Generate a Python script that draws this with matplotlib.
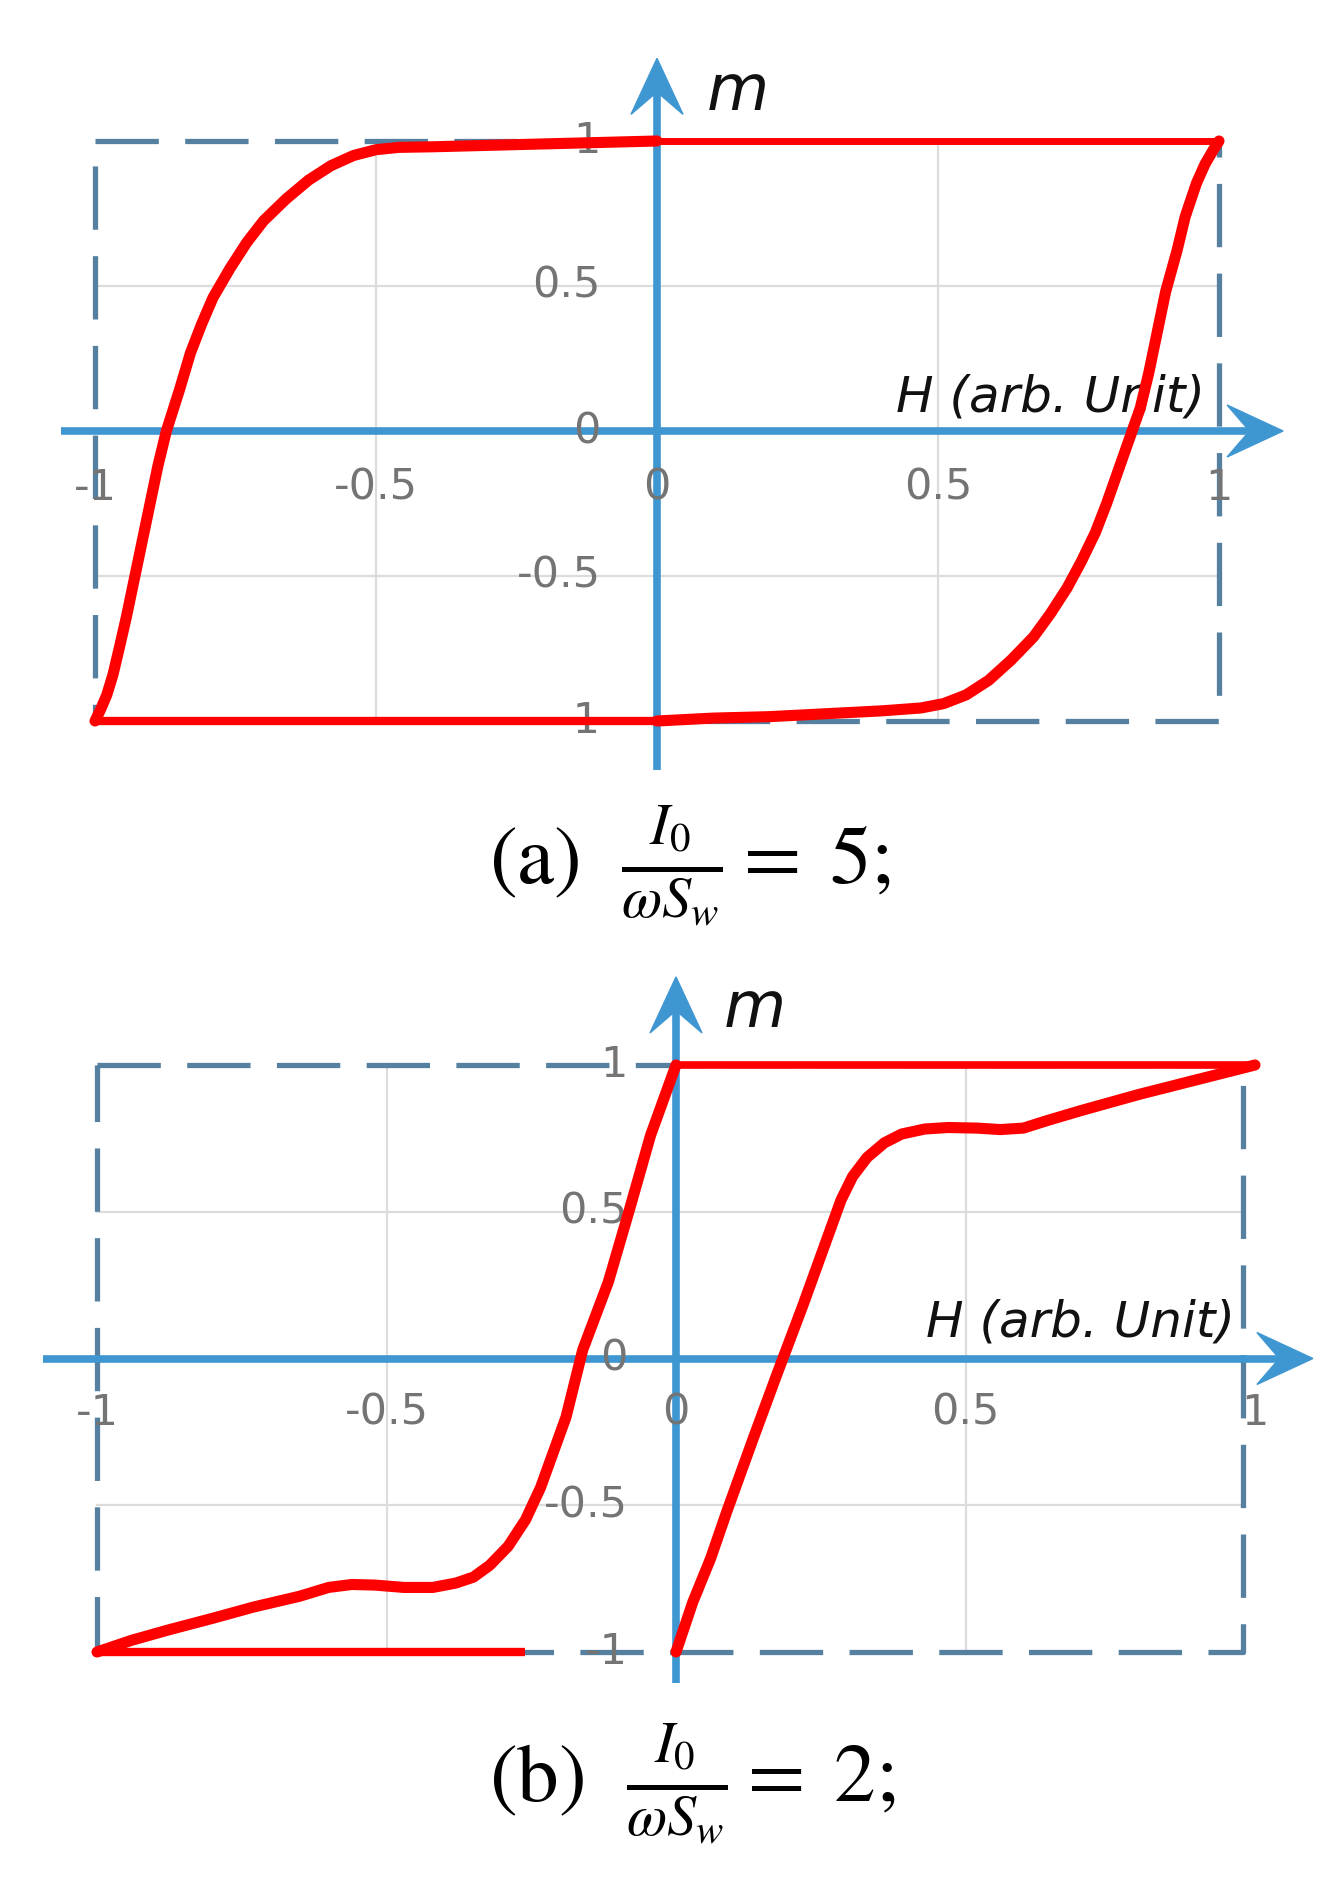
import matplotlib
matplotlib.use("Agg")
import matplotlib.pyplot as plt
from matplotlib.patches import Polygon

plt.rcParams['mathtext.fontset'] = 'stix'

# ---------------- data ----------------
tick_vals = [-1, -0.5, 0, 0.5, 1]
tick_labels = ["-1", "-0.5", "0", "0.5", "1"]

# panel (a): I0/(w Sw) = 5
a_top_H = [1.0, 0.0]
a_top_m = [1.0, 1.0]
a_desc_H = [0.0, -0.2, -0.3, -0.4, -0.46, -0.5, -0.54, -0.58, -0.62, -0.66,
            -0.7, -0.73, -0.76, -0.79, -0.81, -0.83, -0.85, -0.873, -0.888, -0.902,
            -0.916, -0.93, -0.944, -0.957, -0.968, -0.979, -0.99, -1.0]
a_desc_m = [1.0, 0.99, 0.985, 0.98, 0.978, 0.97, 0.95, 0.915, 0.865, 0.8,
            0.725, 0.65, 0.56, 0.46, 0.37, 0.27, 0.14, 0.0, -0.12, -0.25,
            -0.38, -0.51, -0.64, -0.75, -0.84, -0.91, -0.96, -1.0]
a_bottom_H = [-1.0, 0.0]
a_bottom_m = [-1.0, -1.0]
a_asc_H = [0.0, 0.1, 0.2, 0.3, 0.4, 0.47, 0.51, 0.55, 0.59, 0.63, 0.67,
           0.7, 0.73, 0.755, 0.78, 0.80, 0.82, 0.84, 0.86, 0.875, 0.89, 0.905, 0.925,
           0.94, 0.96, 0.975, 0.99, 1.0]
a_asc_m = [-1.0, -0.99, -0.985, -0.975, -0.965, -0.955, -0.94, -0.91,
           -0.86, -0.79, -0.71, -0.63, -0.54, -0.45, -0.35, -0.25, -0.14, -0.03, 0.08,
           0.2, 0.34, 0.48, 0.62, 0.74, 0.855, 0.92, 0.97, 1.0]

# panel (b): I0/(w Sw) = 2
b_top_H = [0.0, 1.0]
b_top_m = [1.0, 1.0]
b_desc_H = [0.0, -0.044, -0.08, -0.117, -0.161, -0.19, -0.234, -0.26,
            -0.29, -0.322, -0.35, -0.38, -0.42, -0.47, -0.52, -0.56, -0.6, -0.65,
            -0.73, -0.8, -0.877, -0.94, -1.0]
b_desc_m = [1.0, 0.76, 0.51, 0.26, 0.03, -0.2, -0.44, -0.55,
            -0.64, -0.705, -0.745, -0.765, -0.78, -0.78, -0.772, -0.77, -0.78, -0.81,
            -0.847, -0.885, -0.925, -0.96, -1.0]
b_bottom_H = [-1.0, -0.26]
b_bottom_m = [-1.0, -1.0]
b_asc_H = [0.0, 0.029, 0.06, 0.088, 0.132, 0.175, 0.219, 0.263, 0.285, 0.305, 0.33,
           0.36, 0.39, 0.43, 0.47, 0.52, 0.56, 0.6, 0.64, 0.7, 0.8, 0.9, 1.0]
b_asc_m = [-1.0, -0.83, -0.68, -0.52, -0.28, -0.05, 0.18, 0.42, 0.54, 0.62, 0.685,
           0.735, 0.765, 0.782, 0.787, 0.785, 0.78, 0.785, 0.81, 0.845, 0.9, 0.95, 1.0]

# ---------------- figure ----------------
W, H = 1328, 1888
fig = plt.figure(figsize=(W / 100, H / 100), dpi=100)

RED = '#ff0000'
AXBLUE = '#3f97d2'
BOX = '#55809f'
GRID = '#dcdcdc'
TICKC = '#747474'
TICKFONT = ['DejaVu Sans']


def make_axes(px_left, px_right, px_top, px_bottom):
    ax = fig.add_axes([px_left / W, 1 - px_bottom / H,
                       (px_right - px_left) / W, (px_bottom - px_top) / H])
    ax.set_xlim(-1, 1)
    ax.set_ylim(-1, 1)
    ax.axis('off')
    sx = (px_right - px_left) / 2.0
    sy = (px_bottom - px_top) / 2.0
    return ax, sx, sy


def arrow_head(ax, tip, direction, sx, sy, L=56, Wd=52, notch=0.6):
    # shape defined in pixels, converted to data units
    if direction == 'right':
        pts = [(0, 0), (-L, Wd / 2), (-L * notch, 0), (-L, -Wd / 2)]
    else:  # up
        pts = [(0, 0), (Wd / 2, -L), (0, -L * notch), (-Wd / 2, -L)]
    pts = [(tip[0] + px / sx, tip[1] + py / sy) for px, py in pts]
    ax.add_patch(Polygon(pts, closed=True, facecolor=AXBLUE, edgecolor=AXBLUE,
                         lw=1, clip_on=False, zorder=3))


def panel(ax, sx, sy, xaxis_rng, yaxis_rng, box_right, ylab_x, xlab_y,
          hlabel_pos, mlabel_pos):
    # grid
    for v in [-0.5, 0.5]:
        ax.plot([v, v], [-1, 1], color=GRID, lw=1.6, zorder=1, clip_on=False)
        ax.plot([-1, box_right], [v, v], color=GRID, lw=1.6, zorder=1, clip_on=False)
    # dashed box
    ax.plot([-1, box_right, box_right, -1, -1], [1, 1, -1, -1, 1], color=BOX, lw=3.8,
            linestyle=(0, (12, 5)), zorder=2, clip_on=False, solid_capstyle='butt')
    # axes lines with arrows
    ax.plot([xaxis_rng[0], xaxis_rng[1] - 30 / sx], [0, 0], color=AXBLUE, lw=5.5,
            zorder=3, clip_on=False, solid_capstyle='butt')
    arrow_head(ax, (xaxis_rng[1], 0), 'right', sx, sy)
    ax.plot([0, 0], [yaxis_rng[0], yaxis_rng[1] - 30 / sy], color=AXBLUE, lw=5.5,
            zorder=3, clip_on=False, solid_capstyle='butt')
    arrow_head(ax, (0, yaxis_rng[1]), 'up', sx, sy)
    # tick labels
    for v, lab in zip(tick_vals, tick_labels):
        ax.text(v, xlab_y, lab, ha='center', va='center', fontsize=31,
                color=TICKC, family=TICKFONT, zorder=4, clip_on=False)
        ax.text(ylab_x, v, lab, ha='right', va='center', fontsize=31,
                color=TICKC, family=TICKFONT, zorder=4, clip_on=False)
    ax.text(hlabel_pos[0], hlabel_pos[1], 'H (arb. Unit)', ha='right', va='center',
            fontsize=36, style='italic', color='#111111', family=['DejaVu Sans'],
            zorder=4, clip_on=False)
    ax.text(mlabel_pos[0], mlabel_pos[1], 'm', ha='center', va='center',
            fontsize=46, style='italic', color='#111111', family=['DejaVu Sans'],
            zorder=4, clip_on=False)


CURVE_LW = 8.0
FLAT_LW = 5.0
curve_kw = dict(color=RED, zorder=5, clip_on=False,
                solid_joinstyle='round', solid_capstyle='round')

# panel (a)
axa, sxa, sya = make_axes(95, 1219, 141, 721)
panel(axa, sxa, sya, (-1.06, 1.114), (-1.17, 1.285), 1.0, -0.10, -0.195,
      (0.975, 0.116), (0.144, 1.17))
axa.plot(a_top_H, a_top_m, lw=FLAT_LW, **curve_kw)
axa.plot(a_bottom_H, a_bottom_m, lw=FLAT_LW + 1, **curve_kw)
axa.plot(a_desc_H, a_desc_m, lw=CURVE_LW, **curve_kw)
axa.plot(a_asc_H, a_asc_m, lw=CURVE_LW, **curve_kw)

# panel (b)
axb, sxb, syb = make_axes(97, 1255, 1065, 1652)
panel(axb, sxb, syb, (-1.093, 1.10), (-1.107, 1.30), 0.98, -0.083, -0.184,
      (0.965, 0.123), (0.137, 1.19))
axb.plot(b_top_H, b_top_m, lw=FLAT_LW + 0.5, **curve_kw)
axb.plot(b_bottom_H, b_bottom_m, lw=FLAT_LW + 1, color=RED, zorder=5,
         clip_on=False, solid_capstyle='butt')
axb.plot(b_desc_H, b_desc_m, lw=CURVE_LW, **curve_kw)
axb.plot(b_asc_H, b_asc_m, lw=CURVE_LW, **curve_kw)

# captions
fig.text(690 / W, 1 - 866 / H, r'$\mathrm{(a)}\ \ \frac{I_0}{\omega S_w}=\;5;$',
         ha='center', va='center', fontsize=60, color='black')
fig.text(692 / W, 1 - 1784 / H, r'$\mathrm{(b)}\ \ \frac{I_0}{\omega S_w}=\;2;$',
         ha='center', va='center', fontsize=60, color='black')

fig.savefig('out.png', dpi=100, facecolor='white')
